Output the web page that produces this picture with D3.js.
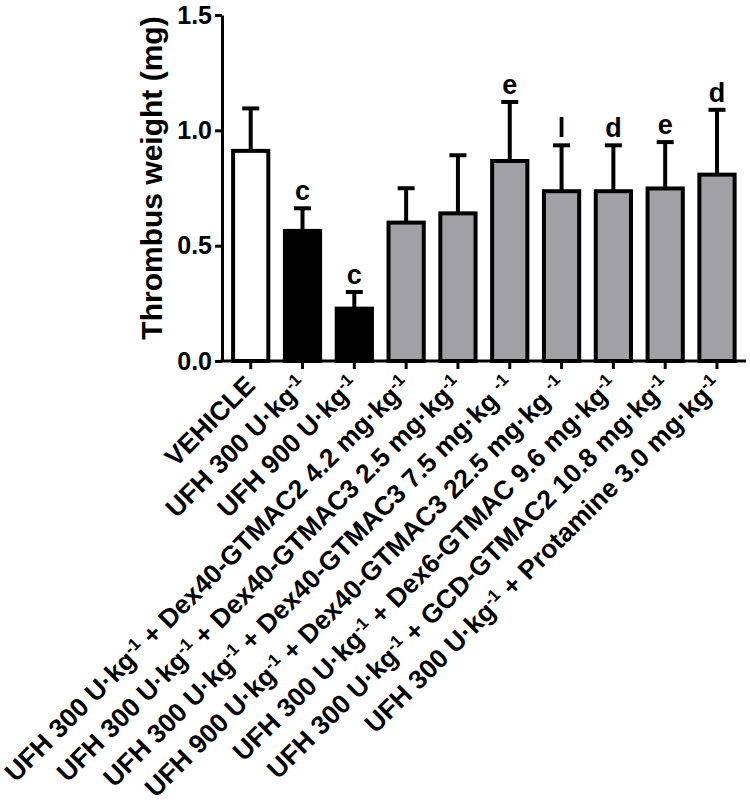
<!DOCTYPE html>
<html><head><meta charset="utf-8">
<script src="https://cdn.jsdelivr.net/npm/d3@7"></script>
<style>body{margin:0;background:#fff}svg{display:block}text{font-family:"Liberation Sans",Arial,sans-serif;font-weight:bold}</style>
</head><body><svg id="c" width="750" height="804"></svg>
<script>
// label parts: [main, sup, main, sup]
const categories = [
  ["VEHICLE"],
  ["UFH 300 U·kg","-1"],
  ["UFH 900 U·kg","-1"],
  ["UFH 300 U·kg","-1"," + Dex40-GTMAC2 4.2 mg·kg","-1"],
  ["UFH 300 U·kg","-1"," + Dex40-GTMAC3 2.5 mg·kg","-1"],
  ["UFH 300 U·kg","-1"," + Dex40-GTMAC3 7.5 mg·kg ","-1"],
  ["UFH 900 U·kg","-1"," + Dex40-GTMAC3 22.5 mg·kg ","-1"],
  ["UFH 300 U·kg","-1"," + Dex6-GTMAC 9.6 mg·kg","-1"],
  ["UFH 300 U·kg","-1"," + GCD-GTMAC2 10.8 mg·kg","-1"],
  ["UFH 300 U·kg","-1"," + Protamine 3.0 mg·kg","-1"]
];
const means = [0.911, 0.564, 0.227, 0.600, 0.640, 0.867, 0.736, 0.736, 0.748, 0.808];
const errors = [0.184, 0.098, 0.072, 0.149, 0.252, 0.256, 0.199, 0.199, 0.201, 0.281];
const letters = ["", "c", "c", "", "", "e", "l", "d", "e", "d"];
const groups = ["white","black","black","gray","gray","gray","gray","gray","gray","gray"];
const yTicks = [0, 0.5, 1.0, 1.5];
const fills = {white:"#ffffff", black:"#000000", gray:"#a1a1a5"};

const svg = d3.select("#c");
const idx = d3.range(categories.length);
const x = d3.scaleBand().domain(idx).range([224.8, 742.9]).paddingInner(0.32).paddingOuter(0.16);
const y = d3.scaleLinear().domain([0, 1.5]).range([361, 15]);
const axisX0 = 222, axisX1 = 746;

// bars
svg.append("g").selectAll("rect").data(idx).join("rect")
  .attr("x", i => x(i)).attr("y", i => y(means[i]))
  .attr("width", x.bandwidth()).attr("height", i => y(0) - y(means[i]))
  .attr("fill", i => fills[groups[i]]).attr("stroke", "#000").attr("stroke-width", 4);

// error bars
const eb = svg.append("g").attr("stroke", "#000").attr("stroke-width", 4);
idx.forEach(i => {
  const cx = x(i) + x.bandwidth()/2;
  eb.append("line").attr("x1", cx).attr("x2", cx).attr("y1", y(means[i])).attr("y2", y(means[i]+errors[i]));
  eb.append("line").attr("x1", cx-8.5).attr("x2", cx+8.5).attr("y1", y(means[i]+errors[i])).attr("y2", y(means[i]+errors[i]));
});

// letters
svg.append("g").selectAll("text").data(idx.filter(i => letters[i])).join("text")
  .attr("x", i => x(i) + x.bandwidth()/2).attr("y", i => y(means[i]+errors[i]) - 8)
  .attr("text-anchor", "middle").attr("font-size", 27).text(i => letters[i]);

// y axis
const ya = svg.append("g").attr("transform", `translate(${axisX0},0)`)
  .call(d3.axisLeft(y).tickValues(yTicks).tickFormat(d3.format(".1f")).tickSize(7).tickSizeOuter(0).tickPadding(3));
ya.select(".domain").attr("stroke-width", 3);
ya.selectAll(".tick line").attr("stroke-width", 3);
ya.selectAll(".tick text").attr("font-size", 25).attr("font-family", "Liberation Sans, Arial, sans-serif").attr("font-weight", "bold").attr("fill", "#000");

// x axis
const xa = svg.append("g").attr("transform", `translate(0,${y(0)})`)
  .call(d3.axisBottom(x).tickSize(8).tickSizeOuter(0).tickFormat(""));
xa.select(".domain").remove();
xa.selectAll(".tick line").attr("stroke-width", 3);
svg.append("line").attr("x1", axisX0 - 1.5).attr("x2", axisX1).attr("y1", y(0)).attr("y2", y(0))
  .attr("stroke", "#000").attr("stroke-width", 3);

// x labels
const lab = svg.append("g").selectAll("text").data(idx).join("text")
  .attr("font-size", 26.4).attr("text-anchor", "end")
  .attr("transform", i => `translate(${x(i) + x.bandwidth()/2 + 6},${y(0) + 26}) rotate(-45)`);
lab.each(function(i) {
  const t = d3.select(this);
  categories[i].forEach((p, k) => {
    if (k % 2 === 0) t.append("tspan").attr("dy", k === 0 ? 0 : 9).text(p);
    else t.append("tspan").attr("dy", -9).attr("font-size", 17).text(p);
  });
});

// y title
svg.append("text").attr("transform", `translate(162,178) rotate(-90)`)
  .attr("text-anchor", "middle").attr("font-size", 30).text("Thrombus weight (mg)");
</script></body></html>
